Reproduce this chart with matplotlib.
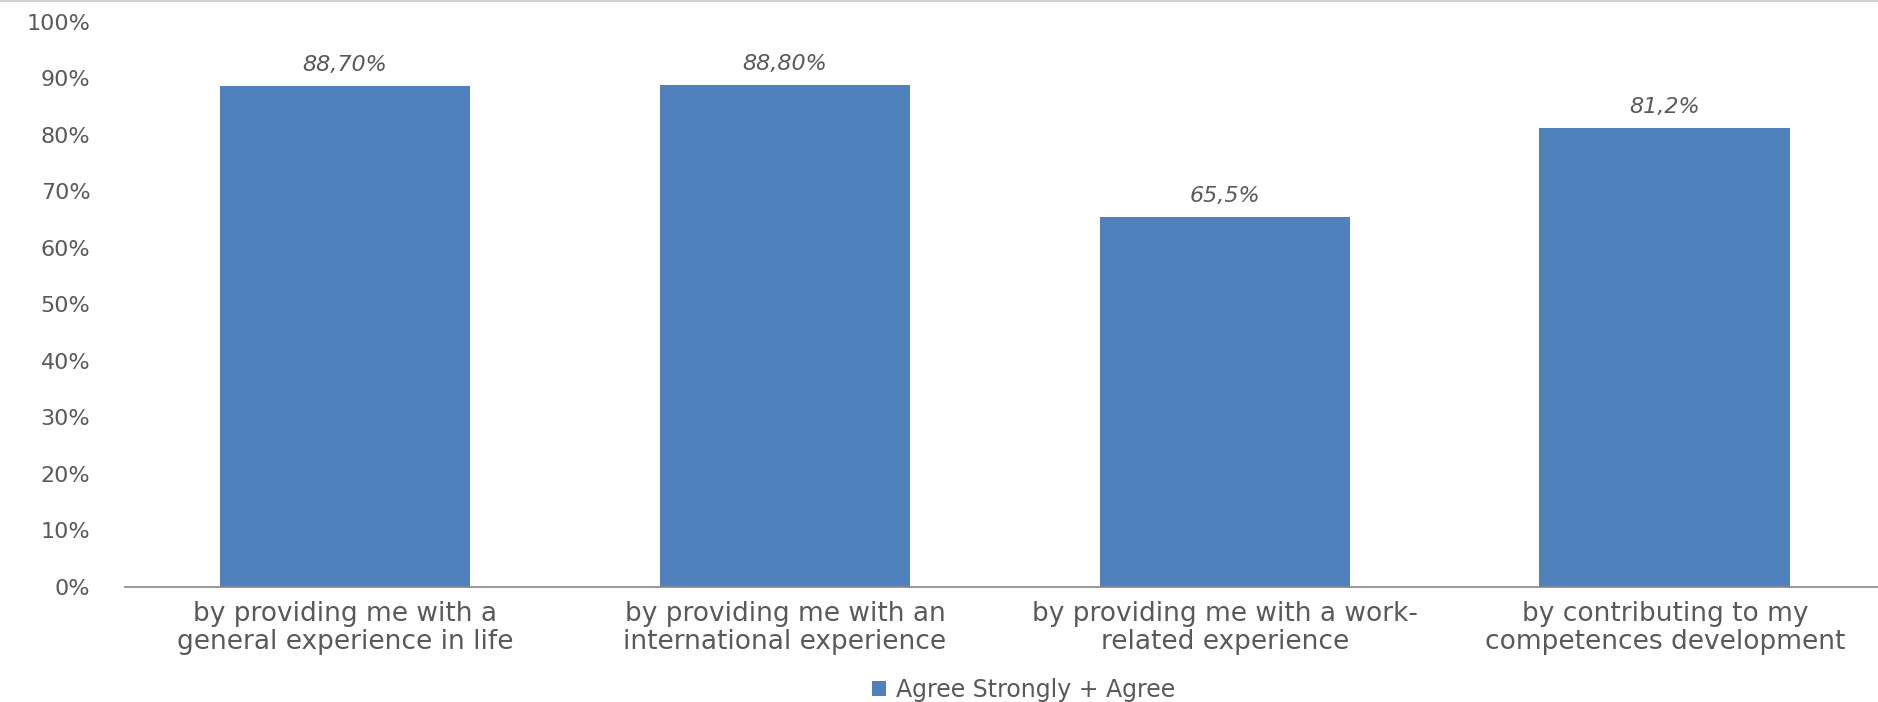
import matplotlib.pyplot as plt
import numpy as np

# Dados do grafico
categorias = [
    "by providing me with a\ngeneral experience in life",
    "by providing me with an\ninternational experience",
    "by providing me with a work-\nrelated experience",
    "by contributing to my\ncompetences development",
]
valores = [88.7, 88.8, 65.5, 81.2]
rotulos = ["88,70%", "88,80%", "65,5%", "81,2%"]
yticks = [0, 10, 20, 30, 40, 50, 60, 70, 80, 90, 100]
serie = "Agree Strongly + Agree"

cor_barra = "#4F81BD"
cor_texto = "#595959"

fig = plt.figure(figsize=(18.78, 7.02), dpi=100)
ax = fig.add_axes([0.0666, 0.164, 0.937, 0.805])

x = np.arange(len(categorias))
ax.bar(x, valores, width=0.57, color=cor_barra, label=serie, zorder=2)

for xi, v, r in zip(x, valores, rotulos):
    ax.annotate(r, (xi, v), xytext=(0, 8), textcoords="offset points",
                ha="center", va="bottom", fontsize=16, style="italic", color=cor_texto)

ax.set_xlim(-0.5, len(categorias) - 0.5)
ax.set_ylim(0, 100)
ax.set_yticks(yticks)
ax.set_yticklabels([f"{t}%" for t in yticks], fontsize=16, color=cor_texto)
ax.set_xticks(x)
ax.set_xticklabels(categorias, fontsize=19, color=cor_texto, linespacing=1.1)
ax.tick_params(axis="y", length=0, pad=25)
ax.tick_params(axis="x", length=0, pad=10)

for lado in ["top", "right", "left"]:
    ax.spines[lado].set_visible(False)
ax.spines["bottom"].set_color("#868686")
ax.spines["bottom"].set_linewidth(1.2)

fig.legend(loc="lower center", bbox_to_anchor=(0.545, -0.03), frameon=False,
           fontsize=17, labelcolor=cor_texto, handlelength=0.6, handleheight=0.6,
           handletextpad=0.4)

# linha fina no topo
fig.add_artist(plt.Line2D([0, 1], [0.998, 0.998], color="#d0d0d0", lw=1.5))

fig.savefig("out.png", dpi=100)
